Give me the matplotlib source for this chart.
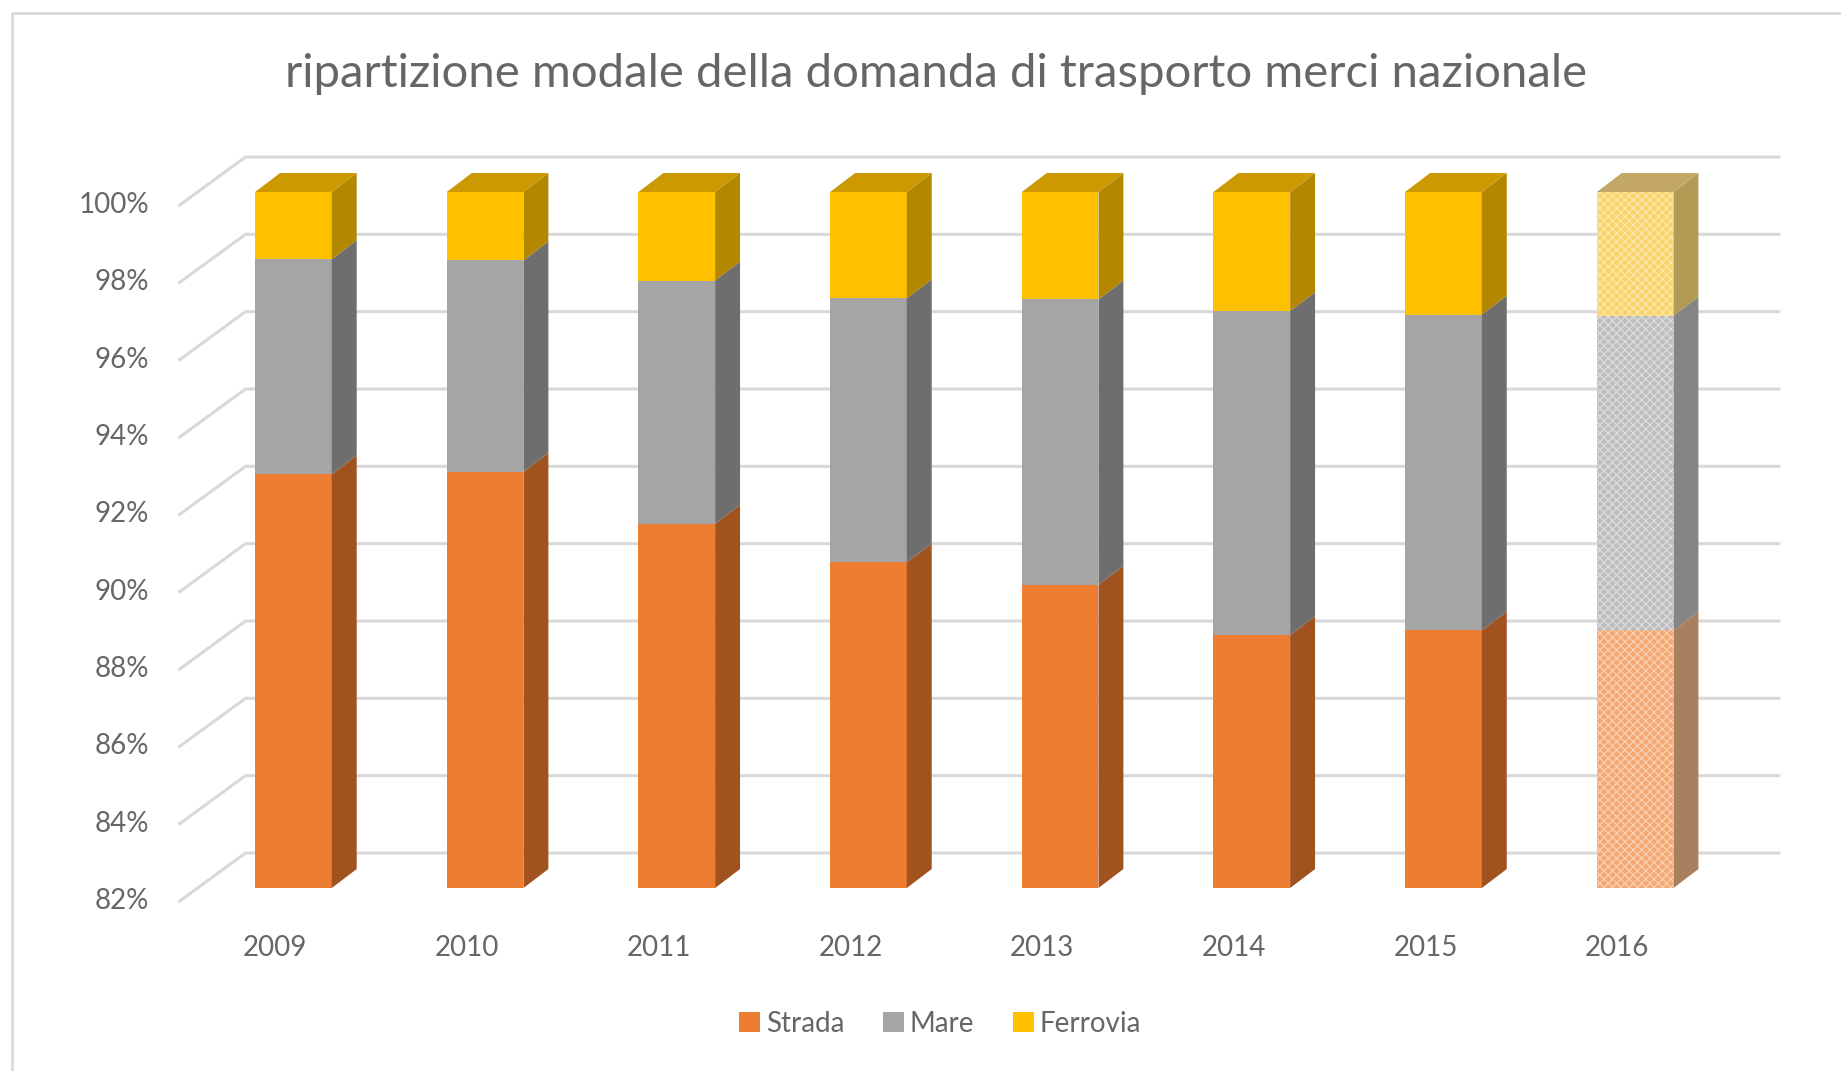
import matplotlib
matplotlib.use('Agg')
import matplotlib.pyplot as plt
from matplotlib.patches import Polygon, Patch
from matplotlib.lines import Line2D

plt.rcParams['font.family'] = ['Lato', 'DejaVu Sans']
plt.rcParams['hatch.linewidth'] = 1.0

# data (share of national freight demand, %)
years = ['2009', '2010', '2011', '2012', '2013', '2014', '2015', '2016']
strada = [92.70, 92.76, 91.42, 90.42, 89.84, 88.54, 88.66, 88.66]
mare = [5.56, 5.47, 6.29, 6.83, 7.38, 8.38, 8.17, 8.14]
ferrovia = [1.74, 1.77, 2.29, 2.75, 2.78, 3.08, 3.17, 3.20]
ymin, ymax = 82, 100
yticks = list(range(82, 101, 2))

# colours: front, side, top
col_front = ['#ED7D31', '#A5A5A5', '#FFC000']
col_side = ['#A0521F', '#6E6E6E', '#B38700']
col_top = ['#C0651F', '#8A8A8A', '#CC9A00']
# 2016 is an estimate -> patterned, faded
est_front = ['#F3A874', '#BDBDBD', '#F9D36A']
est_hatch = ['#F9CDAE', '#DADADA', '#FCE7A8']
est_side = ['#A8805F', '#858585', '#B39A55']
est_top = ['#B89467', '#9A9A9A', '#C2A765']

gray = '#666666'
fig = plt.figure(figsize=(18.41, 10.71), dpi=100)
# front plane of the bars
ax = fig.add_axes([197.6 / 1841, 183 / 1071, 1533.4 / 1841, 696 / 1071])
ax.set_xlim(-0.5, 7.5)
ax.set_ylim(ymin, ymax)
ax.axis('off')

# depth offsets in data units (bar depth, floor front, back wall)
bdx, bdy = 0.13, 0.49
fdx, fdy = -0.094, -0.34
wdx, wdy = 0.25, 0.905

# grid: diagonal on side wall + line on back wall
for v in yticks:
    ax.add_line(Line2D([-0.5 + fdx, -0.5 + wdx, 7.5 + wdx], [v + fdy, v + wdy, v + wdy],
                       color='#D9D9D9', lw=2.2, clip_on=False, zorder=1))
    ax.text(-0.5 + fdx - 0.16, v + fdy, f'{v}%', ha='right', va='center',
            fontsize=20, color=gray, clip_on=False)

for i, yr in enumerate(years):
    ax.text(i + fdx, ymin + fdy - 1.21, yr, ha='center', va='center', fontsize=20, color=gray)

w = 0.4
est = len(years) - 1
for i in range(len(years)):
    segs = [(ymin, strada[i]), (strada[i], strada[i] + mare[i]),
            (strada[i] + mare[i], strada[i] + mare[i] + ferrovia[i])]
    x0, x1 = i - w / 2, i + w / 2
    for k, (b, t) in enumerate(segs):
        if i == est:
            fc, sc, tc = est_front[k], est_side[k], est_top[k]
            ax.bar(i, t - b, bottom=b, width=w, color=fc, edgecolor=est_hatch[k],
                   hatch='xxxx', lw=0, zorder=3, clip_on=False)
        else:
            fc, sc, tc = col_front[k], col_side[k], col_top[k]
            ax.bar(i, t - b, bottom=b, width=w, color=fc, lw=0, zorder=3, clip_on=False)
        ax.add_patch(Polygon([(x1, b), (x1 + bdx, b + bdy), (x1 + bdx, t + bdy), (x1, t)],
                             closed=True, fc=sc, ec='none', zorder=3, clip_on=False))
        if k == len(segs) - 1:
            ax.add_patch(Polygon([(x0, t), (x1, t), (x1 + bdx, t + bdy), (x0 + bdx, t + bdy)],
                                 closed=True, fc=tc, ec='none', zorder=3, clip_on=False))

fig.text(936 / 1841, 1 - 74 / 1071, 'ripartizione modale della domanda di trasporto merci nazionale',
         ha='center', va='center', fontsize=34, color=gray)

handles = [Patch(fc=c, ec='none') for c in col_front]
fig.legend(handles, ['Strada', 'Mare', 'Ferrovia'], loc='center', ncol=3,
           bbox_to_anchor=(940 / 1841, 1 - 1024 / 1071), frameon=False, fontsize=20,
           handlelength=0.75, handleheight=0.75, handletextpad=0.2, columnspacing=1.4,
           labelcolor=gray)

# chart border (only top/left visible in the crop)
fig.add_artist(Line2D([12 / 1841, 12 / 1841, 1.0], [0, 1 - 13 / 1071, 1 - 13 / 1071],
                      color='#D9D9D9', lw=2, transform=fig.transFigure))

fig.savefig('out.png', dpi=100, facecolor='white')
